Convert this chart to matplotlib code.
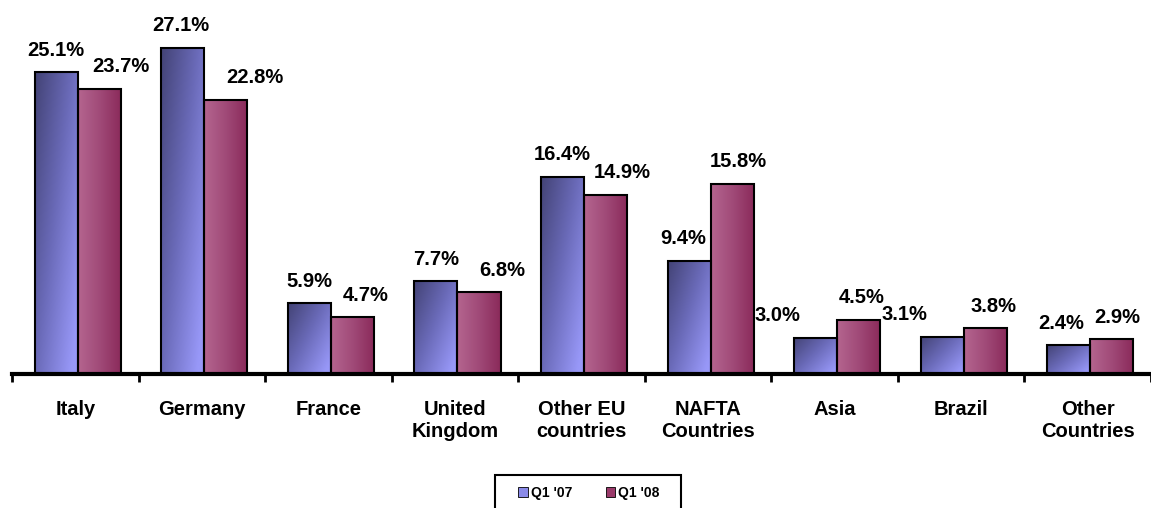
import matplotlib
matplotlib.use("Agg")
import matplotlib.pyplot as plt
import numpy as np
from matplotlib.colors import LinearSegmentedColormap
from matplotlib.patches import Patch, Rectangle

# ── Data ─────────────────────────────────────────────────────────────
CATEGORIES = ["Italy", "Germany", "France", "United\nKingdom", "Other EU\ncountries",
              "NAFTA\nCountries", "Asia", "Brazil", "Other\nCountries"]
Q1_07 = [25.1, 27.1, 5.9, 7.7, 16.4, 9.4, 3.0, 3.1, 2.4]
Q1_08 = [23.7, 22.8, 4.7, 6.8, 14.9, 15.8, 4.5, 3.8, 2.9]
SERIES = ["Q1 '07", "Q1 '08"]

# label nudges (pixels) to mimic the original label placement
DX_07 = [0, -2, 0, 0, 0, -6, -38, -38, -8]
DX_08 = [22, 29, 13, 23, 17, 6, 3, 8, 5]

plt.rcParams["font.family"] = ["Liberation Sans", "DejaVu Sans"]
plt.rcParams["font.weight"] = "bold"

BLUE_CMAP = LinearSegmentedColormap.from_list("b", ["#434376", "#6a6ab8", "#9898f8"])
PINK_CMAP = LinearSegmentedColormap.from_list("p", ["#b4658f", "#a04a78", "#8a2a5a"])

W, H = 1151, 508
fig = plt.figure(figsize=(W / 100, H / 100), dpi=100)
ax = fig.add_axes([12 / W, 1 - 374 / H, 1 - 12 / W, 374 / H])

x = np.arange(len(CATEGORIES))
w = 0.34
b1 = ax.bar(x - w / 2 + 0.02, Q1_07, w, facecolor="none", edgecolor="black", linewidth=1.5, zorder=3)
b2 = ax.bar(x + w / 2 + 0.02, Q1_08, w, facecolor="none", edgecolor="black", linewidth=1.5, zorder=3)

# gradient fills
gx, gy = np.meshgrid(np.linspace(0, 1, 64), np.linspace(0, 1, 64))
blue_grad = np.clip(0.6 * gx + 0.5 * gy, 0, 1)  # dark top-left -> light bottom-right
pink_grad = gx
for bars, grad, cmap in ((b1, blue_grad, BLUE_CMAP), (b2, pink_grad, PINK_CMAP)):
    for p in bars:
        x0, h, bw = p.get_x(), p.get_height(), p.get_width()
        ax.imshow(grad, cmap=cmap, vmin=0, vmax=1, aspect="auto", origin="upper",
                  extent=(x0, x0 + bw, 0, h), zorder=2, interpolation="bilinear")

# value labels
for bars, vals, dxs in ((b1, Q1_07, DX_07), (b2, Q1_08, DX_08)):
    for p, v, dx in zip(bars, vals, dxs):
        ax.annotate(f"{v:.1f}%", (p.get_x() + p.get_width() / 2, v),
                    xytext=(dx * 0.72, 9), textcoords="offset points",
                    ha="center", va="bottom", fontsize=14.5, fontweight="bold")

ax.set_xlim(-0.5, len(CATEGORIES) - 0.5)
ax.set_ylim(0, 374 / 12.03)

for s in ("top", "right", "left"):
    ax.spines[s].set_visible(False)
ax.spines["bottom"].set_linewidth(3)
ax.set_yticks([])

ax.set_xticks(np.arange(len(CATEGORIES) + 1) - 0.5)
ax.set_xticklabels([])
ax.tick_params(axis="x", length=6, width=2, direction="out")
ax.set_xticks(x, minor=True)
ax.set_xticklabels(CATEGORIES, minor=True, fontsize=14.5, fontweight="bold", linespacing=1.2)
ax.tick_params(axis="x", which="minor", length=0, pad=19)

# legend (frame drawn separately, cut off by the bottom edge as in the original)
handles = [Patch(facecolor="#8a8ae8", edgecolor="black", linewidth=0.6),
           Patch(facecolor="#9a3a6a", edgecolor="black", linewidth=0.6)]
fig.legend(handles, SERIES, loc="center", bbox_to_anchor=(589 / W, 1 - 493 / H),
           ncol=2, frameon=False, prop={"weight": "bold", "size": 10},
           handlelength=0.7, handleheight=0.7, handletextpad=0.2, columnspacing=2.4,
           borderaxespad=0, borderpad=0)
fig.add_artist(Rectangle((495 / W, -0.02), 186 / W, 0.02 + 33 / H, transform=fig.transFigure,
                         facecolor="none", edgecolor="black", linewidth=1.5))

fig.savefig("out.png", dpi=100)
